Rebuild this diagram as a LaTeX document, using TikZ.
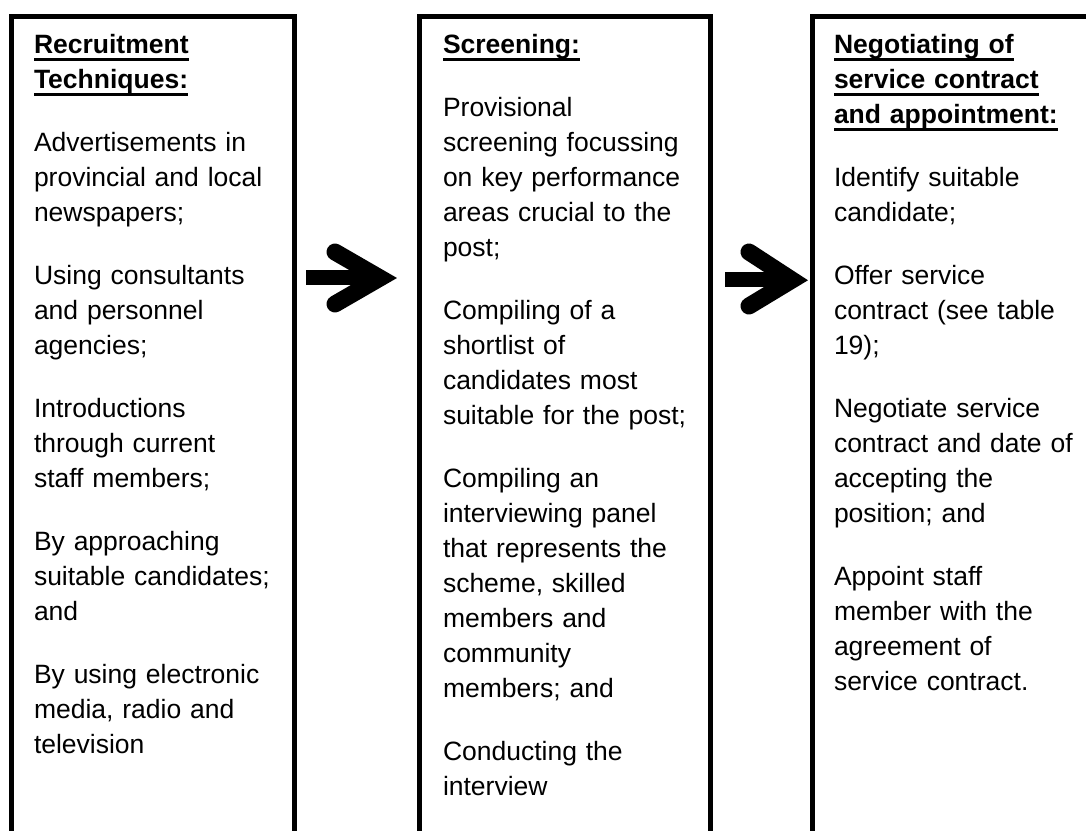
\documentclass[tikz,border=0pt]{standalone}
\usepackage{fontspec}
\setmainfont{Liberation Sans}
\usetikzlibrary{calc}
\newcommand\ulx[1]{\setbox0=\hbox{#1}\rlap{\rule[-7.5pt]{\wd0}{2.8pt}}\box0}
\tikzset{
  panel/.style={draw=black, line width=5pt, fill=none, inner sep=0pt, outer sep=0pt, anchor=north west, minimum height=900pt},
  paneltext/.style={anchor=north west, inner sep=0pt, outer sep=0pt, text width=270pt, align=left, font=\fontsize{26.5}{35}\selectfont},
  shaft/.style={line width=15pt, line cap=butt},
  chev/.style={line width=17pt, line cap=round, line join=miter},
}
\begin{document}
\begin{tikzpicture}[x=1pt,y=-1pt]
\useasboundingbox (0,0) rectangle (1086,830);
\clip (0,0) rectangle (1086,830);
\fill[white] (0,0) rectangle (1086,830);

% panels
\node[panel, minimum width=283pt] (b1) at (11.5,16.5) {};
\node[panel, minimum width=290.5pt] (b2) at (419.5,16.5) {};
\node[panel, minimum width=297.5pt] (b3) at (812.5,16.5) {};

% texts
\node[paneltext] (t1) at (34,28) {\rule{0pt}{25pt}\textbf{\ulx{Recruitment}}\\
\textbf{\ulx{Techniques:}}\\[28pt]
Advertisements in\\ provincial and local\\ newspapers;\\[28pt]
Using consultants\\ and personnel\\ agencies;\\[28pt]
Introductions\\ through current\\ staff members;\\[28pt]
By approaching\\ suitable candidates;\\ and\\[28pt]
By using electronic\\ media, radio and\\ television};

\node[paneltext] (t2) at (443,28) {\rule{0pt}{25pt}\textbf{\ulx{Screening:}}\\[28pt]
Provisional\\ screening focussing\\ on key performance\\ areas crucial to the\\ post;\\[28pt]
Compiling of a\\ shortlist of\\ candidates most\\ suitable for the post;\\[28pt]
Compiling an\\ interviewing panel\\ that represents the\\ scheme, skilled\\ members and\\ community\\ members; and\\[28pt]
Conducting the\\ interview};

\node[paneltext] (t3) at (834,28) {\rule{0pt}{25pt}\textbf{\ulx{Negotiating of}}\\
\textbf{\ulx{service contract}}\\
\textbf{\ulx{and appointment:}}\\[28pt]
Identify suitable\\ candidate;\\[28pt]
Offer service\\ contract (see table\\ 19);\\[28pt]
Negotiate service\\ contract and date of\\ accepting the\\ position; and\\[28pt]
Appoint staff\\ member with the\\ agreement of\\ service contract.};

% arrows
\coordinate (a1s) at (306,277.5);
\coordinate (a1e) at (398,278);
\coordinate (a2s) at (725,279.5);
\coordinate (a2e) at (810,280);
\draw[shaft] (a1s) -- ($(a1e)+(-22,-0.5)$);
\draw[chev] ($(a1e)+(-63,-26)$) -- ($(a1e)+(-18,0)$) -- ($(a1e)+(-63,26)$);
\draw[shaft] (a2s) -- ($(a2e)+(-22,-0.5)$);
\draw[chev] ($(a2e)+(-61,-28)$) -- ($(a2e)+(-18,0)$) -- ($(a2e)+(-61,26)$);
\end{tikzpicture}
\end{document}
